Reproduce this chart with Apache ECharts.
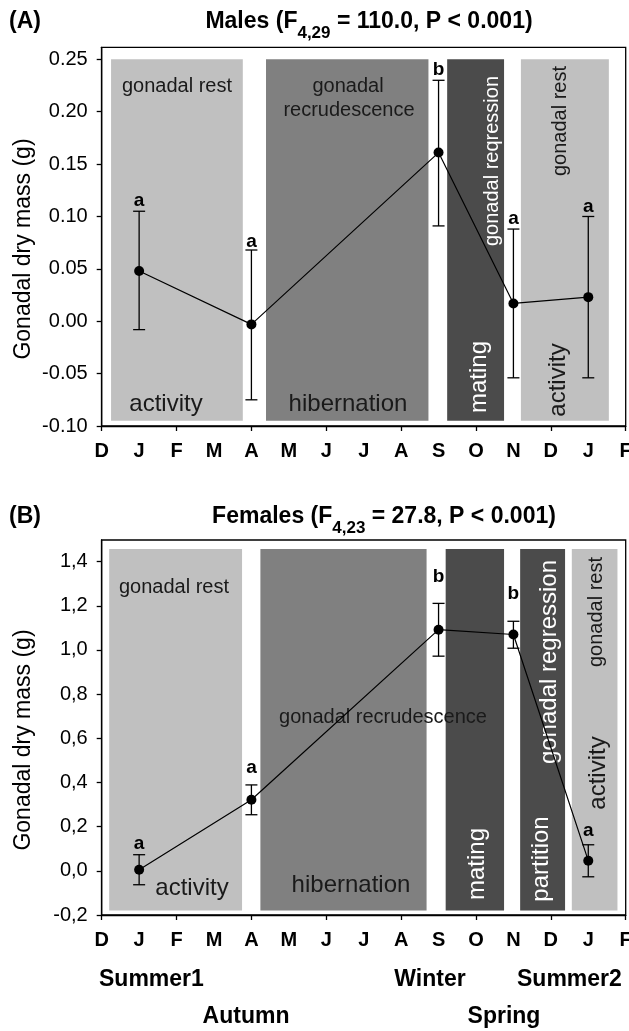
<!DOCTYPE html>
<html><head><meta charset="utf-8">
<script src="https://cdn.jsdelivr.net/npm/echarts@6/dist/echarts.min.js"></script>
<style>html,body{margin:0;padding:0;background:#fff}#c{width:629px;height:1031px}</style>
</head><body><div id="c"></div>
<script>
// ---------- data ----------
const months = ['D','J','F','M','A','M','J','J','A','S','O','N','D','J','F'];
const monthTickValues = [0,2,4,6,8,10,12,14];
const sampleMonth = [1,4,9,11,13];

const maleMean = [0.048,-0.003,0.161,0.017,0.023];
const maleLow  = [-0.008,-0.075,0.091,-0.054,-0.054];
const maleHigh = [0.105,0.068,0.230,0.088,0.100];
const maleLetters = ['a','a','b','a','a'];

const femaleMean = [0.005,0.322,1.092,1.070,0.046];
const femaleLow  = [-0.063,0.254,0.972,1.008,-0.027];
const femaleHigh = [0.073,0.389,1.211,1.130,0.118];
const femaleLetters = ['a','a','b','b','a'];

const maleYTicks = [-0.10,-0.05,0,0.05,0.10,0.15,0.20,0.25];
const femaleYTicks = [-0.2,0,0.2,0.4,0.6,0.8,1.0,1.2,1.4];

// phase bands (month units / value units)
const maleBandStart = [0.25,4.39,9.23,11.2];
const maleBandEnd   = [3.77,8.73,10.75,13.55];
const maleBandBottom = -0.095, maleBandTop = 0.25;
const femaleBandStart = [0.2,4.24,9.19,11.18,12.56];
const femaleBandEnd   = [3.75,8.68,10.75,12.38,13.78];
const femaleBandBottom = -0.18, femaleBandTop = 1.457;

const seasonRow1 = ['Summer1','Winter','Summer2'];
const seasonRow2 = ['Autumn','Spring'];

// ---------- styles ----------
const FONT = '"Liberation Sans", Arial, Helvetica, sans-serif';
const LIGHT = '#c0c0c0', MID = '#808080', DARK = '#4b4b4b';
const maleBandColors = [LIGHT, MID, DARK, LIGHT];
const femaleBandColors = [LIGHT, MID, DARK, DARK, LIGHT];
const maleLetterGap = [10,8,11,10,10];
const femaleLetterGap = [11,17,27,28,14];

const chart = echarts.init(document.getElementById('c'), null, {renderer:'canvas'});

function bandSeries(idx, starts, ends, bottom, top, colors){
  return {
    type:'custom', xAxisIndex:idx, yAxisIndex:idx, silent:true, z:1,
    data: starts.map((s,i)=>[s, ends[i], bottom, top, i]),
    encode:{x:[0,1], y:[2,3]},
    renderItem:(params, api)=>{
      const p0 = api.coord([api.value(0), api.value(3)]);
      const p1 = api.coord([api.value(1), api.value(2)]);
      return {type:'rect', shape:{x:p0[0], y:p0[1], width:p1[0]-p0[0], height:p1[1]-p0[1]},
              style:{fill: colors[api.value(4)]}};
    }
  };
}
function errSeries(idx, low, high, letters, gaps){
  return {
    type:'custom', xAxisIndex:idx, yAxisIndex:idx, silent:true, z:4,
    data: sampleMonth.map((m,i)=>[m, low[i], high[i], i]),
    encode:{x:0, y:[1,2]},
    renderItem:(params, api)=>{
      const x = api.value(0), i = api.value(3);
      const lo = api.coord([x, api.value(1)]);
      const hi = api.coord([x, api.value(2)]);
      const hw = 6, st = {stroke:'#000', lineWidth:1.3};
      return {type:'group', children:[
        {type:'line', shape:{x1:lo[0],y1:lo[1],x2:hi[0],y2:hi[1]}, style:st},
        {type:'line', shape:{x1:lo[0]-hw,y1:lo[1],x2:lo[0]+hw,y2:lo[1]}, style:st},
        {type:'line', shape:{x1:hi[0]-hw,y1:hi[1],x2:hi[0]+hw,y2:hi[1]}, style:st},
        {type:'text', x:hi[0], y:hi[1]-gaps[i], style:{text:letters[i], fill:'#000',
          font:'bold 19px '+FONT, align:'center', verticalAlign:'middle',
          textAlign:'center', textVerticalAlign:'middle'}}
      ]};
    }
  };
}
function lineSeries(idx, mean){
  return {type:'line', xAxisIndex:idx, yAxisIndex:idx, z:5,
    data: sampleMonth.map((m,i)=>[m, mean[i]]),
    symbol:'circle', symbolSize:10, itemStyle:{color:'#000'},
    lineStyle:{color:'#000', width:1.2}, animation:false};
}
function xAxis(idx){
  return {type:'value', gridIndex:idx, min:0, max:14,
    axisLine:{show:true, onZero:false, lineStyle:{color:'#000', width:1.3}},
    axisTick:{show:true, customValues:monthTickValues, length:5, lineStyle:{color:'#000', width:1.3}},
    axisLabel:{customValues:months.map((m,i)=>i), formatter:v=>months[Math.round(v)],
      color:'#000', fontWeight:'bold', fontSize:20, fontFamily:FONT, margin:15},
    splitLine:{show:false}};
}
function yAxis(idx, min, max, ticks, fmt){
  return {type:'value', gridIndex:idx, min:min, max:max,
    axisLine:{show:true, onZero:false, lineStyle:{color:'#000', width:1.3}},
    axisTick:{show:true, customValues:ticks, length:5, lineStyle:{color:'#000', width:1.3}},
    axisLabel:{customValues:ticks, formatter:fmt, color:'#000', fontSize:20, fontFamily:FONT, margin:14},
    splitLine:{show:false}};
}
function txt(x, y, text, size, opts){
  opts = opts || {};
  return {type:'text', x:x, y:y, rotation: opts.rot ? Math.PI/2 : 0, z:3, silent:true,
    style:{text:text, fill: opts.fill || '#1a1a1a', font:(opts.bold?'bold ':'')+size+'px '+FONT,
      align: opts.align || 'center', verticalAlign:'middle',
      textAlign: opts.align || 'center', textVerticalAlign:'middle'}};
}
function titleText(x, y, pre, sub, post){
  return {type:'text', x:x, y:y, z:3, silent:true,
    style:{text:'{m|'+pre+'}{s|'+sub+'}{m|'+post+'}', fill:'#000',
      align:'center', verticalAlign:'top', textAlign:'center', textVerticalAlign:'top',
      rich:{
        m:{fontSize:23, fontWeight:'bold', fontFamily:FONT, lineHeight:26, verticalAlign:'top', fill:'#000', color:'#000'},
        s:{fontSize:17, fontWeight:'bold', fontFamily:FONT, lineHeight:17, padding:[15,0,0,0], verticalAlign:'top', fill:'#000', color:'#000'}
      }}};
}

const W = '#ffffff';
const graphics = [
  txt(9, 22, '(A)', 23, {bold:true, align:'left', fill:'#000'}),
  titleText(369, 10, 'Males (F', '4,29', ' = 110.0, P < 0.001)'),
  txt(9, 517, '(B)', 23, {bold:true, align:'left', fill:'#000'}),
  titleText(384, 505, 'Females (F', '4,23', ' = 27.8, P < 0.001)'),
  txt(24, 249, 'Gonadal dry mass (g)', 23, {rot:true, fill:'#000'}),
  txt(24, 740, 'Gonadal dry mass (g)', 23, {rot:true, fill:'#000'}),
  // panel A band labels
  txt(177, 86, 'gonadal rest', 20),
  txt(348, 86, 'gonadal', 20),
  txt(349, 110, 'recrudescence', 20),
  txt(166, 404, 'activity', 24),
  txt(348, 404, 'hibernation', 24),
  txt(492, 161, 'gonadal reqression', 20, {rot:true, fill:W}),
  txt(479, 377, 'mating', 24, {rot:true, fill:W}),
  txt(560, 121, 'gonadal rest', 20, {rot:true}),
  txt(558, 380, 'activity', 24, {rot:true}),
  // panel B band labels
  txt(174, 587, 'gonadal rest', 20),
  txt(192, 888, 'activity', 24),
  txt(383, 717, 'gonadal recrudescence', 20),
  txt(351, 885, 'hibernation', 24),
  txt(477, 864, 'mating', 24, {rot:true, fill:W}),
  txt(541, 859, 'partition', 24, {rot:true, fill:W}),
  txt(549, 662, 'gonadal regression', 24, {rot:true, fill:W}),
  txt(596, 612, 'gonadal rest', 20, {rot:true}),
  txt(598, 773, 'activity', 24, {rot:true}),
  // seasons
  txt(99, 980, seasonRow1[0], 23, {bold:true, align:'left', fill:'#000'}),
  txt(430, 980, seasonRow1[1], 23, {bold:true, fill:'#000'}),
  txt(517, 980, seasonRow1[2], 23, {bold:true, align:'left', fill:'#000'}),
  txt(246, 1017, seasonRow2[0], 23, {bold:true, fill:'#000'}),
  txt(504, 1017, seasonRow2[1], 23, {bold:true, fill:'#000'})
];

chart.setOption({
  animation:false,
  backgroundColor:'#fff',
  textStyle:{fontFamily:FONT},
  grid:[
    {left:101.7, right:3.3, top:47.3, bottom:605, show:true, borderColor:'#000', borderWidth:1.3, containLabel:false, outerBoundsMode:'none'},
    {left:101.7, right:3.3, top:540, bottom:116, show:true, borderColor:'#000', borderWidth:1.3, containLabel:false, outerBoundsMode:'none'}
  ],
  xAxis:[xAxis(0), xAxis(1)],
  yAxis:[
    yAxis(0, -0.10, 0.2615, maleYTicks, v=>v.toFixed(2)),
    yAxis(1, -0.2, 1.498, femaleYTicks, v=>v.toFixed(1).replace('.',','))
  ],
  series:[
    bandSeries(0, maleBandStart, maleBandEnd, maleBandBottom, maleBandTop, maleBandColors),
    bandSeries(1, femaleBandStart, femaleBandEnd, femaleBandBottom, femaleBandTop, femaleBandColors),
    errSeries(0, maleLow, maleHigh, maleLetters, maleLetterGap),
    errSeries(1, femaleLow, femaleHigh, femaleLetters, femaleLetterGap),
    lineSeries(0, maleMean),
    lineSeries(1, femaleMean)
  ],
  graphic: graphics
});
</script></body></html>
